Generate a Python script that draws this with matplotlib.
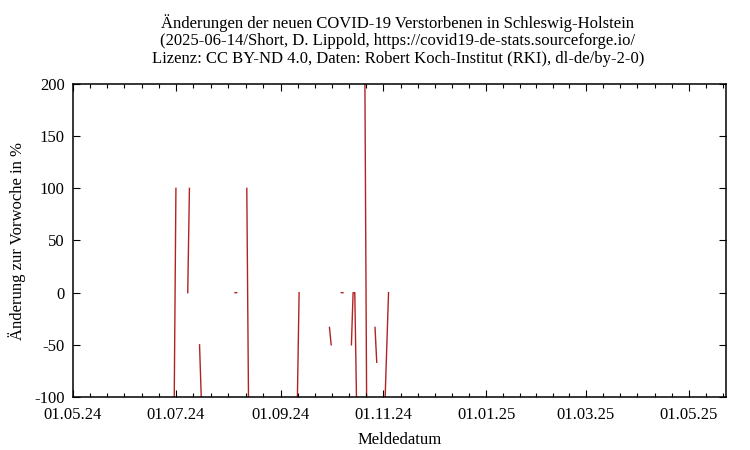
import numpy as np
import pandas as pd
import matplotlib
matplotlib.use("Agg")
import matplotlib.pyplot as plt
import matplotlib.dates as mdates

plt.rcParams['font.family'] = ['Liberation Serif', 'DejaVu Serif']
plt.rcParams['axes.unicode_minus'] = False

# Daily change vs. previous week in %, NaN where undefined (gap in line)
day_dates = ["2024-04-30", "2024-05-01", "2024-05-02",
             "2024-06-30", "2024-07-01", "2024-07-02",
             "2024-07-08", "2024-07-09", "2024-07-10",
             "2024-07-15", "2024-07-16", "2024-07-17",
             "2024-08-05", "2024-08-06", "2024-08-07",
             "2024-08-12", "2024-08-13", "2024-08-14",
             "2024-09-11", "2024-09-12", "2024-09-13",
             "2024-09-30", "2024-10-01", "2024-10-02",
             "2024-10-07", "2024-10-08", "2024-10-09",
             "2024-10-13", "2024-10-14", "2024-10-15", "2024-10-16", "2024-10-17",
             "2024-10-21", "2024-10-22", "2024-10-23",
             "2024-10-27", "2024-10-28", "2024-10-29",
             "2024-11-02", "2024-11-03", "2024-11-04", "2024-11-05"]
day_values = [300, 194, np.nan,
              -100, 100, np.nan,
              0, 100, np.nan,
              -50, -100, np.nan,
              0, 0, np.nan,
              100, -100, np.nan,
              -100, 0, np.nan,
              -33.3, -50, np.nan,
              0, 0, np.nan,
              -50, 0, 0, -100, np.nan,
              200, -100, np.nan,
              -33.3, -66.7, np.nan,
              -100, -50, 0, np.nan]

major_ticks = ["2024-05-01", "2024-07-01", "2024-09-01", "2024-11-01",
               "2025-01-01", "2025-03-01", "2025-05-01", "2025-07-01"]
y_ticks = [-100, -50, 0, 50, 100, 150, 200]

title_lines = ["Änderungen der neuen COVID-19 Verstorbenen in Schleswig-Holstein",
               "(2025-06-14/Short, D. Lippold, https://covid19-de-stats.sourceforge.io/",
               "Lizenz: CC BY-ND 4.0, Daten: Robert Koch-Institut (RKI), dl-de/by-2-0)"]

fig = plt.figure(figsize=(7.5, 4.5), dpi=100)
ax = fig.add_axes([73 / 750, 1 - 397 / 450, (726 - 73) / 750, (397 - 84) / 450])

x = pd.to_datetime(day_dates)
ax.plot(x, day_values, color='#b22222', lw=1.0, zorder=1)

majors = mdates.date2num(pd.to_datetime(major_ticks))
minors = []
for a, b in zip(majors[:-1], majors[1:]):
    minors.extend(np.linspace(a, b, 7)[1:-1])
ax.set_xticks(majors[:-1])
ax.set_xticks(minors, minor=True)
ax.xaxis.set_major_formatter(mdates.DateFormatter('%d.%m.%y'))
ax.set_yticks(y_ticks)

# limits after ticks so the tick list does not widen the view
ax.set_xlim(pd.Timestamp("2024-05-01"), pd.Timestamp("2025-05-23"))
ax.set_ylim(-100, 200)

ax.tick_params(which='both', direction='in', top=True, right=True,
               labelsize=12, width=0.8, colors='black')
ax.tick_params(which='major', length=5)
ax.tick_params(axis='x', which='major', pad=7)
ax.tick_params(axis='y', which='major', pad=6)
ax.tick_params(which='minor', length=3)
for s in ax.spines.values():
    s.set_linewidth(1.1)
    s.set_zorder(3)

ax.set_xlabel("Meldedatum", fontsize=12, labelpad=7)
ax.set_ylabel("Änderung zur Vorwoche in %", fontsize=12, labelpad=6)

for i, line in enumerate(title_lines):
    fig.text(398 / 750, 1 - (23 + 18 * i) / 450, line, ha='center', va='center', fontsize=12)

fig.savefig("out.png", dpi=100)
